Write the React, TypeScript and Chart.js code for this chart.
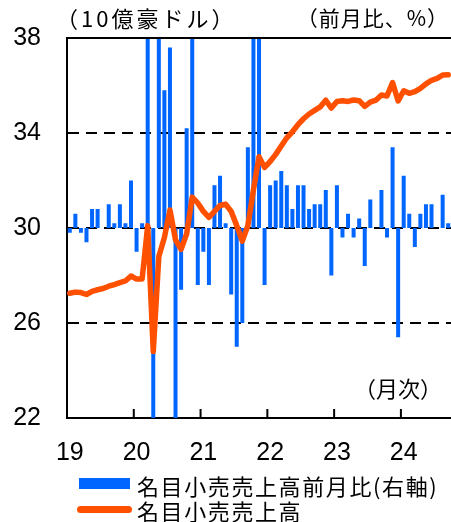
import React, { useEffect, useRef } from 'react';
import { Chart, registerables } from 'chart.js';

Chart.register(...registerables);

// ---- data ----
const yearLabels = ['19', '20', '21', '22', '23', '24'];
const monthNames = ['1', '2', '3', '4', '5', '6', '7', '8', '9', '10', '11', '12'];

// 名目小売売上高 (10億豪ドル)
const level2019 = [27.25, 27.3, 27.28, 27.2, 27.33, 27.4, 27.45, 27.55, 27.62, 27.7, 27.77, 27.98];
const level2020 = [27.85, 27.85, 30.1, 24.8, 28.8, 29.6, 30.76, 29.5, 29.1, 29.75, 31.3, 31.05];
const level2021 = [30.7, 30.45, 30.7, 30.95, 31.0, 30.7, 30.1, 29.45, 30.1, 31.6, 33.0, 32.55];
const level2022 = [32.8, 33.1, 33.45, 33.8, 34.05, 34.35, 34.6, 34.8, 34.95, 35.1, 35.38, 35.05];
const level2023 = [35.33, 35.36, 35.33, 35.39, 35.36, 35.12, 35.3, 35.38, 35.6, 35.56, 36.12, 35.35];
const level2024 = [35.78, 35.67, 35.74, 35.88, 36.07, 36.22, 36.3, 36.44, 36.45];

// 名目小売売上高前月比 (%, 右軸)
const mom2019 = [-0.1, 0.3, -0.1, -0.3, 0.4, 0.4, 0.0, 0.5, 0.1, 0.5, 0.1, 1.0];
const mom2020 = [-0.5, 0.1, 8.2, -17.7, 16.9, 2.9, 3.8, -4.2, -1.3, 2.1, 7.1, -1.2];
const mom2021 = [-0.5, -1.2, 0.9, 1.1, 0.1, -1.4, -2.5, -2.0, 1.7, 5.0, 7.3, -1.2];
const mom2022 = [0.9, 1.0, 1.2, 0.9, 0.4, 0.9, 0.9, 0.4, 0.5, 0.5, 0.8, -1.0];
const mom2023 = [0.9, -0.2, 0.3, -0.2, 0.2, -0.8, 0.6, 0.0, 0.8, -0.2, 1.7, -2.3];
const mom2024 = [1.1, 0.3, -0.4, 0.3, 0.5, 0.5, 0.0, 0.7, 0.1];

const leftTicks = [22, 26, 30, 34, 38];

const levelValues = [...level2019, ...level2020, ...level2021, ...level2022, ...level2023, ...level2024];
const momValues = [...mom2019, ...mom2020, ...mom2021, ...mom2022, ...mom2023, ...mom2024];
const categories = yearLabels
  .flatMap((y) => monthNames.map((m) => `20${y}/${m}`))
  .slice(0, levelValues.length);

const BLUE = '#0066FF';
const ORANGE = '#FF5000';
const CLEAR = 'rgba(0,0,0,0)';
const NUM_FONT = '"Liberation Sans", Arial, sans-serif';
const JP_FONT = '"Noto Sans CJK JP", "Noto Sans", sans-serif';

const framePlugin = {
  id: 'frame',
  afterDatasetsDraw(chart: any) {
    const { ctx, chartArea, scales } = chart;
    const xs = scales.x;
    ctx.save();
    ctx.strokeStyle = '#000';
    ctx.lineWidth = 2;
    ctx.beginPath();
    ctx.moveTo(chartArea.left - 1, chartArea.top);
    ctx.lineTo(chartArea.right, chartArea.top);
    ctx.stroke();
    categories.forEach((c, i) => {
      if (i > 0 && c.endsWith('/1')) {
        const px = (xs.getPixelForValue(i - 1) + xs.getPixelForValue(i)) / 2;
        ctx.beginPath();
        ctx.moveTo(px, chartArea.bottom);
        ctx.lineTo(px, chartArea.bottom - 9);
        ctx.stroke();
      }
    });
    ctx.restore();
  },
};

export default function App() {
  const ref = useRef<HTMLCanvasElement>(null);

  useEffect(() => {
    if (!ref.current) return;
    const chart = new Chart(ref.current, {
      type: 'bar',
      data: {
        labels: categories,
        datasets: [
          {
            type: 'line',
            label: '名目小売売上高',
            data: levelValues,
            yAxisID: 'y',
            borderColor: ORANGE,
            backgroundColor: ORANGE,
            borderWidth: 5.5,
            pointRadius: 0,
            tension: 0,
            borderJoinStyle: 'round',
            borderCapStyle: 'round',
            order: 0,
          } as any,
          {
            type: 'bar',
            label: '名目小売売上高前月比(右軸)',
            data: momValues,
            yAxisID: 'y1',
            backgroundColor: BLUE,
            borderWidth: 0,
            categoryPercentage: 1,
            barPercentage: 0.72,
            clip: 0,
            order: 1,
          } as any,
        ],
      },
      options: {
        animation: false,
        responsive: false,
        devicePixelRatio: 1,
        layout: { padding: { top: 38, left: 0, right: 0, bottom: 0 } },
        plugins: {
          legend: { display: false },
          tooltip: { enabled: false },
        },
        scales: {
          x: {
            type: 'category',
            offset: true,
            grid: {
              display: true,
              drawOnChartArea: false,
              drawTicks: true,
              tickLength: 20,
              tickColor: CLEAR,
              color: CLEAR,
            },
            border: { display: true, color: '#000', width: 2 },
            ticks: {
              autoSkip: false,
              maxRotation: 0,
              minRotation: 0,
              padding: 0,
              color: '#000',
              font: { family: NUM_FONT, size: 25 },
              callback: (_v: any, i: number) => {
                const c = categories[i];
                return c && c.endsWith('/1') ? c.slice(2, 4) : '';
              },
            },
            afterFit: (s: any) => {
              s.height = 104;
            },
          },
          y: {
            position: 'left',
            min: 22,
            max: 38,
            afterBuildTicks: (s: any) => {
              s.ticks = leftTicks.map((v) => ({ value: v }));
            },
            grid: {
              drawTicks: true,
              tickLength: 25,
              tickColor: CLEAR,
              lineWidth: 2,
              color: (ctx: any) => {
                const v = ctx.tick && ctx.tick.value;
                return v === 22 || v === 38 ? CLEAR : '#000';
              },
            },
            border: { display: true, color: '#000', width: 2, dash: [11, 7] },
            ticks: {
              padding: 1,
              color: '#000',
              font: { family: NUM_FONT, size: 25 },
            },
            afterFit: (s: any) => {
              s.width = 67;
            },
          },
          y1: {
            position: 'right',
            display: false,
            min: -4,
            max: 4,
            grid: { display: false },
          },
        },
      },
      plugins: [framePlugin],
    } as any);
    return () => chart.destroy();
  }, []);

  const txt = (extra: React.CSSProperties): React.CSSProperties => ({
    position: 'absolute',
    fontFamily: JP_FONT,
    color: '#000',
    whiteSpace: 'nowrap',
    lineHeight: '22px',
    ...extra,
  });

  return (
    <div style={{ position: 'absolute', left: 0, top: 0, width: 451, height: 522, background: '#fff', overflow: 'hidden' }}>
      <canvas ref={ref} width={451} height={522} style={{ position: 'absolute', left: 0, top: 0 }} />
      <div style={txt({ left: 56, top: 6, fontSize: 22, letterSpacing: '3px' })}>（10億豪ドル）</div>
      <div style={txt({ right: 2, top: 6, fontSize: 21, letterSpacing: '1px' })}>（前月比、%）</div>
      <div style={txt({ right: 9, top: 376, fontSize: 22 })}>（月次）</div>
      <div style={{ position: 'absolute', left: 79, top: 478, width: 51, height: 11, background: BLUE }} />
      <div style={txt({ left: 137, top: 474, fontSize: 22, letterSpacing: '1.6px' })}>名目小売売上高前月比(右軸)</div>
      <div style={{ position: 'absolute', left: 77, top: 506, width: 55, height: 7, borderRadius: 3.5, background: ORANGE }} />
      <div style={txt({ left: 137, top: 499, fontSize: 22, letterSpacing: '1.6px' })}>名目小売売上高</div>
    </div>
  );
}
